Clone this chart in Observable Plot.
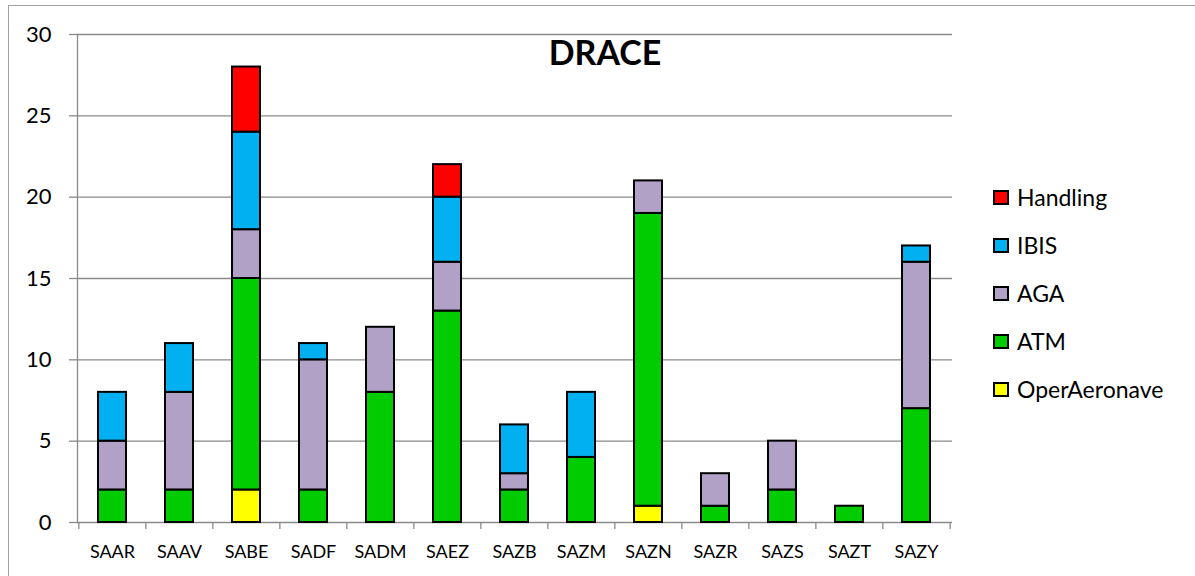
<!DOCTYPE html>
<html>
<head>
<meta charset="utf-8">
<script src="https://cdn.jsdelivr.net/npm/d3@7"></script>
<script src="https://cdn.jsdelivr.net/npm/@observablehq/plot@0.6"></script>
<style>
  html, body { margin: 0; padding: 0; background: #fff; }
  #wrap { position: relative; width: 1195px; height: 576px; overflow: hidden; font-family: Lato, sans-serif; }
  #frame { position: absolute; left: 8px; top: 5px; width: 1300px; height: 700px; border: 1.5px solid #a0a0a0; box-sizing: border-box; }
  #chart { position: absolute; left: 0; top: 0; }
  #title { position: absolute; left: 605px; top: 35px; transform: translateX(-50%); font: bold 34px/1 Lato, sans-serif; color: #000; white-space: nowrap; }
  #legend { position: absolute; left: 993px; top: 173px; }
  .row { height: 48px; display: flex; align-items: center; font-size: 23px; color: #000; }
  .sw { width: 16px; height: 15px; border: 2px solid #000; box-sizing: border-box; margin-right: 8px; }
</style>
</head>
<body>
<div id="wrap">
  <div id="frame"></div>
  <div id="chart"></div>
  <div id="title">DRACE</div>
  <div id="legend"></div>
</div>
<script>
const categories = ["SAAR","SAAV","SABE","SADF","SADM","SAEZ","SAZB","SAZM","SAZN","SAZR","SAZS","SAZT","SAZY"];
const operAeronave = [0,0,2,0,0,0,0,0,1,0,0,0,0];
const atm          = [2,2,13,2,8,13,2,4,18,1,2,1,7];
const aga          = [3,6,3,8,4,3,1,0,2,2,3,0,9];
const ibis         = [3,3,6,1,0,4,3,4,0,0,0,0,1];
const handling     = [0,0,4,0,0,2,0,0,0,0,0,0,0];
const seriesNames  = ["OperAeronave","ATM","AGA","IBIS","Handling"];
const seriesColors = ["#ffff00","#00cc00","#b2a1c7","#00b0f0","#ff0000"];
const yTicks = [0,5,10,15,20,25,30];

const seriesValues = [operAeronave, atm, aga, ibis, handling];
const data = [];
categories.forEach((c, i) => {
  seriesNames.forEach((s, j) => {
    const v = seriesValues[j][i];
    if (v > 0) data.push({category: c, series: s, value: v});
  });
});

const W = 1195, H = 576, mL = 77, mR = 243, mT = 34, mB = 54;
const step = (W - mL - mR) / categories.length;
const gray = "#8a8a8a";

const plot = Plot.plot({
  width: W, height: H,
  marginLeft: mL, marginRight: mR, marginTop: mT, marginBottom: mB,
  style: {fontFamily: "Lato, sans-serif", color: "#000", background: "transparent"},
  x: {domain: categories, paddingInner: 0.58, paddingOuter: 0.29, label: null},
  y: {domain: [0, 30], label: null},
  color: {domain: seriesNames, range: seriesColors},
  marks: [
    Plot.gridY(yTicks, {stroke: gray, strokeOpacity: 1, strokeWidth: 1.3}),
    Plot.frame({anchor: "left", stroke: gray, strokeWidth: 1.3}),
    Plot.axisY(yTicks, {tickSize: 8, tickPadding: 18, fontSize: 22, stroke: gray, strokeWidth: 1.3, fill: "#000", label: null}),
    Plot.ruleX(categories, {x: d => d, dx: -step / 2, y1: 0, y2: 0, insetBottom: -7, stroke: gray, strokeWidth: 1.3}),
    Plot.ruleX([categories[categories.length - 1]], {x: d => d, dx: step / 2, y1: 0, y2: 0, insetBottom: -7, stroke: gray, strokeWidth: 1.3}),
    Plot.barY(data, Plot.stackY({
      x: "category", y: "value", z: "series", fill: "series",
      order: seriesNames,
      stroke: "#000", strokeWidth: 2
    })),
    Plot.axisX({tickSize: 0, tickPadding: 23, fontSize: 18, fill: "#000", label: null})
  ]
});
document.getElementById("chart").appendChild(plot);

const legend = document.getElementById("legend");
[...seriesNames].reverse().forEach(s => {
  const row = document.createElement("div");
  row.className = "row";
  const sw = document.createElement("div");
  sw.className = "sw";
  sw.style.background = seriesColors[seriesNames.indexOf(s)];
  const t = document.createElement("span");
  t.textContent = s;
  row.appendChild(sw);
  row.appendChild(t);
  legend.appendChild(row);
});
</script>
</body>
</html>
